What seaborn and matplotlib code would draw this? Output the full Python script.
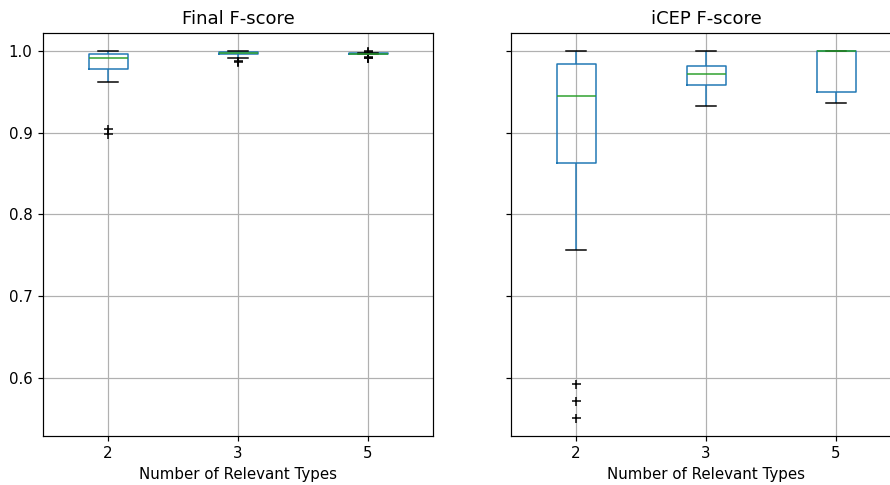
import matplotlib
matplotlib.use("Agg")
import matplotlib.pyplot as plt
import seaborn as sns
import pandas as pd

# ---- data ----
types = ["2", "3", "5"]
titles = ["Final F-score", "iCEP F-score"]
xlabel = "Number of Relevant Types"

final_2 = [0.899, 0.904, 0.962, 0.9775, 0.984, 0.989, 0.992, 0.994, 0.995, 0.9963, 0.998, 0.999, 1.0]
final_3 = [0.986, 0.988, 0.992, 0.996, 0.997, 0.9975, 0.998, 0.9985, 0.999, 0.999, 0.9995, 1.0, 1.0]
final_5 = [0.991, 0.992, 0.993, 0.996, 0.996, 0.9965, 0.9965, 0.9968, 0.997, 0.997, 0.998, 0.999, 1.0]

icep_2 = [0.551, 0.572, 0.593, 0.757, 0.863, 0.89, 0.91, 0.93, 0.945, 0.955, 0.965, 0.975, 0.984, 0.99, 0.995, 0.998, 1.0]
icep_3 = [0.933, 0.95, 0.958, 0.965, 0.972, 0.976, 0.982, 0.99, 1.0]
icep_5 = [0.936, 0.945, 0.950, 0.98, 1.0, 1.0, 1.0, 1.0, 1.0]

yticks = [0.6, 0.7, 0.8, 0.9, 1.0]


def long_frame(groups):
    rows = []
    for t, vals in zip(types, groups):
        for v in vals:
            rows.append({"types": t, "score": v})
    return pd.DataFrame(rows)


df_final = long_frame([final_2, final_3, final_5])
df_icep = long_frame([icep_2, icep_3, icep_5])

W, H = 890, 485
DPI = 108
fig = plt.figure(figsize=(W / DPI, H / DPI), dpi=DPI)
ax1 = fig.add_axes([43 / W, 49 / H, 390 / W, 403 / H])
ax2 = fig.add_axes([511 / W, 49 / H, 390 / W, 403 / H], sharey=ax1)

blue = "#1f77b4"
green = "#2ca02c"

for ax, df, title in [(ax1, df_final, titles[0]), (ax2, df_icep, titles[1])]:
    sns.boxplot(
        data=df, x="types", y="score", order=types, ax=ax,
        width=0.3, fill=False, whis=1.5, fliersize=6, linewidth=1.0,
        boxprops={"color": blue},
        whiskerprops={"color": blue},
        capprops={"color": "black"},
        medianprops={"color": green},
        flierprops={"marker": "+", "markeredgecolor": "black",
                    "markerfacecolor": "none", "markersize": 6},
    )
    ax.set_title(title, fontsize=12)
    ax.set_xlabel(xlabel, fontsize=10)
    ax.set_ylabel("")
    ax.grid(True, color="#b0b0b0", linewidth=0.8)
    ax.set_axisbelow(True)
    ax.tick_params(labelsize=10)

ax1.set_ylim(0.529, 1.022)
ax1.set_yticks(yticks)
ax1.set_yticklabels([f"{v:.1f}" for v in yticks])
ax2.tick_params(labelleft=False)

fig.savefig("out.png", dpi=DPI)
